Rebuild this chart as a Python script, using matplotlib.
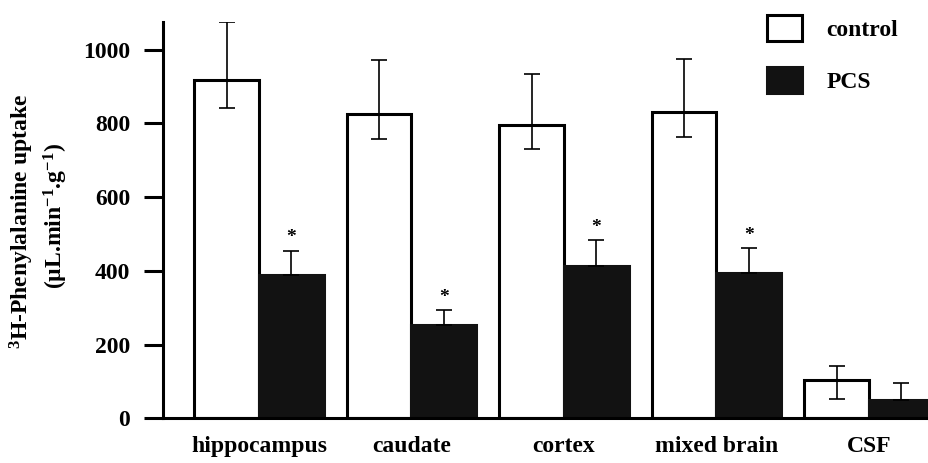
import matplotlib
matplotlib.use("Agg")
import matplotlib.pyplot as plt
import numpy as np

categories = ["hippocampus", "caudate", "cortex", "mixed brain", "CSF"]
control = [917, 826, 795, 831, 104]
control_err_low = [75, 68, 65, 68, 52]
control_err_high = [159, 145, 139, 143, 39]
pcs = [388, 253, 413, 395, 49]
pcs_err_high = [67, 41, 71, 66, 46]
significant = [True, True, True, True, False]
yticks = [0, 200, 400, 600, 800, 1000]
series_names = ["control", "PCS"]

plt.rcParams['font.family'] = ['Liberation Serif', 'DejaVu Serif']
plt.rcParams['font.weight'] = 'bold'
plt.rcParams['mathtext.fontset'] = 'custom'
plt.rcParams['mathtext.rm'] = 'Liberation Serif:bold'
plt.rcParams['mathtext.it'] = 'Liberation Serif:bold'
plt.rcParams['mathtext.bf'] = 'Liberation Serif:bold'

W, H = 929, 463
fig = plt.figure(figsize=(W / 100, H / 100), dpi=100)
ax = fig.add_axes([163 / W, (H - 418.3) / H, (W - 163) / W, (418.3 - 22) / H])

x = np.arange(len(categories))
w = 0.423
lw = 2.2
b1 = ax.bar(x - w / 2, control, w, color='white', edgecolor='black', linewidth=lw,
            label=series_names[0], zorder=2)
b2 = ax.bar(x + w / 2, pcs, w, color='#121212', edgecolor='#121212', linewidth=lw,
            label=series_names[1], zorder=2)

ax.errorbar(x - w / 2, control, yerr=[control_err_low, control_err_high], fmt='none',
            ecolor='black', elinewidth=1.2, capsize=5.8, capthick=1.2, zorder=3)
ax.errorbar(x + w / 2, pcs, yerr=[np.zeros(len(pcs)), pcs_err_high], fmt='none',
            ecolor='black', elinewidth=1.2, capsize=5.8, capthick=1.2, zorder=3)

for i, sig in enumerate(significant):
    if sig:
        ax.annotate('*', (x[i] + w / 2, pcs[i] + pcs_err_high[i]), xytext=(0, 3),
                    textcoords='offset points', ha='center', va='bottom',
                    fontsize=14, fontweight='bold')

ax.set_xlim((163 - 259) / 152.5, (929 - 259) / 152.5)
ax.set_ylim(0, 1075)
ax.set_yticks(yticks)
ax.set_yticklabels([str(t) for t in yticks])
ax.set_xticks(x)
ax.set_xticklabels(categories)

for s in ['top', 'right']:
    ax.spines[s].set_visible(False)
ax.spines['left'].set_linewidth(2.2)
ax.spines['bottom'].set_linewidth(2.2)
ax.tick_params(axis='y', length=13.7, width=2.2, pad=10, labelsize=17)
ax.tick_params(axis='x', length=0, pad=13, labelsize=17)
for lab in ax.get_xticklabels() + ax.get_yticklabels():
    lab.set_fontweight('bold')

fig.text(22 / W, (H - 221) / H, '$^{3}$H-Phenylalanine uptake', rotation=90,
         ha='center', va='center', fontsize=17, fontweight='bold')
fig.text(56 / W, (H - 216) / H, '(µL.min$^{-1}$.g$^{-1}$)', rotation=90,
         ha='center', va='center', fontsize=17, fontweight='bold')

leg = ax.legend(handles=[b1, b2], loc='upper left', bbox_to_anchor=(760 / W, 1 - 8 / H),
                bbox_transform=fig.transFigure, frameon=False, fontsize=17,
                handlelength=1.5, handleheight=1.3, labelspacing=1.1, handletextpad=1.0,
                borderaxespad=0, borderpad=0.3)
for t in leg.get_texts():
    t.set_fontweight('bold')

fig.savefig('out.png', dpi=100)
